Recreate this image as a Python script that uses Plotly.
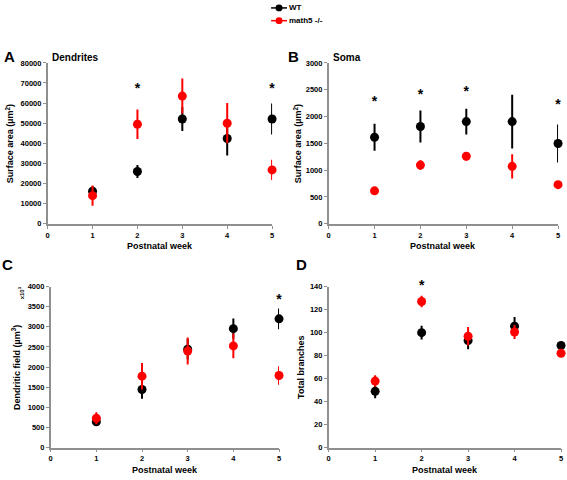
import plotly.graph_objects as go

W, H = 567, 480
weeks = [1, 2, 3, 4, 5]

# Panel A: dendrite surface area
a_wt = [16200, 26000, 52100, 42400, 52100]
a_wt_err = [2500, 3200, 6000, 8500, 7700]
a_ko = [14000, 49500, 63500, 50000, 26800]
a_ko_err = [5000, 7300, 8700, 10000, 5000]
a_sig_x = [2, 5]
a_sig_y = [66700, 66700]

# Panel B: soma surface area
b_wt = [1613, 1814, 1905, 1905, 1497]
b_wt_err = [250, 300, 240, 500, 355]
b_ko = [615, 1095, 1260, 1071, 730]
b_ko_err = [60, 90, 80, 225, 60]
b_sig_x = [1, 2, 3, 5]
b_sig_y = [2258, 2392, 2453, 2209]

# Panel C: dendritic field
c_wt = [640, 1441, 2445, 2955, 3198]
c_wt_err = [50, 230, 260, 250, 260]
c_ko = [729, 1773, 2397, 2526, 1789]
c_ko_err = [150, 330, 335, 310, 230]
c_sig_x = [5]
c_sig_y = [3660]

# Panel D: total branches
d_wt = [48.9, 99.9, 93.1, 105.6, 88.8]
d_wt_err = [6, 6, 7.5, 8, 2]
d_ko = [57.8, 127, 96.8, 100.5, 82]
d_ko_err = [5, 5, 8, 6, 3]
d_sig_x = [2]
d_sig_y = [140]

FONT = "Liberation Sans, Arial, sans-serif"
AX = "#8f8f8f"

panels = [
    dict(wt=a_wt, wte=a_wt_err, ko=a_ko, koe=a_ko_err, sx=a_sig_x, sy=a_sig_y,
         xd=(46, 272), yd=(60, 224), yr=(0, 80000), dt=10000,
         ytitle="Surface area (µm<sup>2</sup>)", ytx=8, letter="A", lx=8, ly=53,
         title="Dendrites", tx=48, xtitle_y=247),
    dict(wt=b_wt, wte=b_wt_err, ko=b_ko, koe=b_ko_err, sx=b_sig_x, sy=b_sig_y,
         xd=(329, 560), yd=(60, 224), yr=(0, 3000), dt=500,
         ytitle="Surface area (µm<sup>2</sup>)", ytx=298, letter="B", lx=294, ly=53,
         title="Soma", tx=331, xtitle_y=247),
    dict(wt=c_wt, wte=c_wt_err, ko=c_ko, koe=c_ko_err, sx=c_sig_x, sy=c_sig_y,
         xd=(49, 279), yd=(288, 452), yr=(0, 4000), dt=500,
         ytitle="Dendritic field (µm<sup>3</sup>)", ytx=14, letter="C", lx=6, ly=265,
         title="", tx=0, xtitle_y=475),
    dict(wt=d_wt, wte=d_wt_err, ko=d_ko, koe=d_ko_err, sx=d_sig_x, sy=d_sig_y,
         xd=(329, 563), yd=(288, 452), yr=(0, 140), dt=20,
         ytitle="Total branches", ytx=301, letter="D", lx=302, ly=265,
         title="", tx=0, xtitle_y=475),
]

fig = go.Figure()
annotations = []
shapes = []
layout_axes = {}

for i, p in enumerate(panels, start=1):
    xa = "x" if i == 1 else f"x{i}"
    ya = "y" if i == 1 else f"y{i}"
    xkey = "xaxis" if i == 1 else f"xaxis{i}"
    ykey = "yaxis" if i == 1 else f"yaxis{i}"
    for vals, errs, col in ((p["wt"], p["wte"], "black"), (p["ko"], p["koe"], "#ff0000")):
        fig.add_trace(go.Scatter(
            x=weeks, y=vals, mode="markers", xaxis=xa, yaxis=ya,
            marker=dict(color=col, size=9),
            error_y=dict(type="data", array=errs, color=col, thickness=2, width=0),
            cliponaxis=False, showlegend=False))
    fig.add_trace(go.Scatter(
        x=p["sx"], y=p["sy"], mode="text", text=["*"] * len(p["sx"]),
        textfont=dict(family=FONT, size=14, color="black", weight="bold"),
        textposition="middle center", xaxis=xa, yaxis=ya, cliponaxis=False,
        showlegend=False))
    x0, x1 = p["xd"]
    y0, y1 = p["yd"]
    layout_axes[xkey] = dict(
        domain=[x0 / W, x1 / W], anchor=ya, range=[0, 5], dtick=1,
        showline=True, linecolor=AX, linewidth=1.5, ticks="outside",
        ticklen=3, tickcolor=AX, showgrid=False, zeroline=False,
        tickfont=dict(family=FONT, size=7.5, color="black", weight="bold"))
    layout_axes[ykey] = dict(
        domain=[1 - y1 / H, 1 - y0 / H], anchor=xa, range=list(p["yr"]),
        dtick=p["dt"], tickformat="d", showline=True, linecolor=AX, linewidth=1.5,
        ticks="outside", ticklen=3, tickcolor=AX, showgrid=False,
        zeroline=False,
        tickfont=dict(family=FONT, size=7.5, color="black", weight="bold"))
    # axis titles
    annotations.append(dict(
        text="<b>Postnatal week</b>", x=(x0 + x1) / 2 / W, y=1 - p["xtitle_y"] / H,
        xref="paper", yref="paper", showarrow=False, xanchor="center",
        yanchor="middle", font=dict(family=FONT, size=9, color="black")))
    annotations.append(dict(
        text=f"<b>{p['ytitle']}</b>", x=p["ytx"] / W, y=1 - (y0 + y1) / 2 / H,
        xref="paper", yref="paper", showarrow=False, textangle=-90,
        xanchor="center", yanchor="middle",
        font=dict(family=FONT, size=9, color="black")))
    annotations.append(dict(
        text=f"<b>{p['letter']}</b>", x=p["lx"] / W, y=1 - p["ly"] / H,
        xref="paper", yref="paper", showarrow=False, xanchor="center",
        yanchor="middle", font=dict(family=FONT, size=15, color="black")))
    if p["title"]:
        annotations.append(dict(
            text=f"<b>{p['title']}</b>", x=p["tx"] / W, y=1 - 55 / H,
            xref="paper", yref="paper", showarrow=False, xanchor="left",
            yanchor="middle", font=dict(family=FONT, size=10, color="black")))

# x10^3 multiplier label for panel C
annotations.append(dict(
    text="<b>x10<sup>3</sup></b>", x=20 / W, y=1 - 294 / H, xref="paper",
    yref="paper", showarrow=False, textangle=-90, xanchor="center",
    yanchor="middle", font=dict(family=FONT, size=6, color="black")))

# manual legend
legend_items = [("WT", "black", 4), ("math5 -/-", "#ff0000", 17)]
for name, col, ly in legend_items:
    shapes.append(dict(type="line", xref="paper", yref="paper",
                       x0=271 / W, x1=287 / W, y0=1 - ly / H, y1=1 - ly / H,
                       line=dict(color=col, width=1.5)))
    shapes.append(dict(type="circle", xref="paper", yref="paper",
                       x0=275.5 / W, x1=282.5 / W, y0=1 - (ly + 3.5) / H,
                       y1=1 - (ly - 3.5) / H, fillcolor=col,
                       line=dict(color=col, width=0)))
    annotations.append(dict(
        text=f"<b>{name}</b>", x=287 / W, y=1 - ly / H, xref="paper",
        yref="paper", showarrow=False, xanchor="left", yanchor="middle",
        font=dict(family=FONT, size=8, color="black")))

fig.update_layout(
    width=W, height=H, margin=dict(l=0, r=0, t=0, b=0),
    paper_bgcolor="white", plot_bgcolor="white",
    annotations=annotations, shapes=shapes, **layout_axes)

fig.write_html("out.html", config={"displayModeBar": False},
               post_script="document.body.style.margin='0';document.body.style.overflow='hidden';")
